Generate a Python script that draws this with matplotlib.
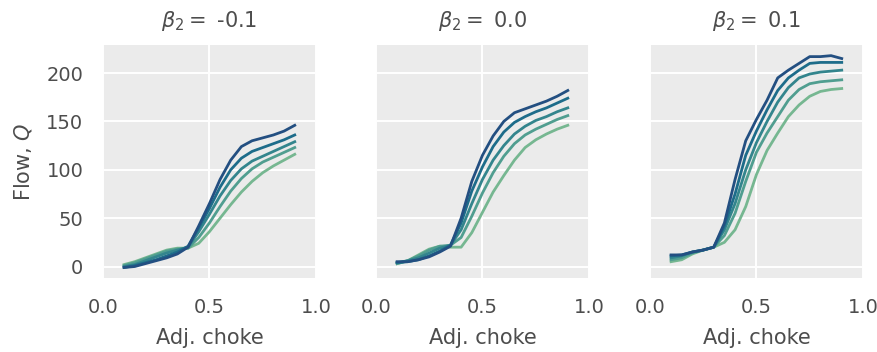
import numpy as np
import matplotlib
matplotlib.use("Agg")
import matplotlib.pyplot as plt
import seaborn as sns

# Adjusted choke positions
choke = [0.1, 0.15, 0.2, 0.25, 0.3, 0.35, 0.4, 0.45, 0.5,
         0.55, 0.6, 0.65, 0.7, 0.75, 0.8, 0.85, 0.9]

betas = ["-0.1", "0.0", "0.1"]

# flow curves per panel, lightest -> darkest
flow_m01 = [
    [2, 5, 9, 13, 17, 19, 19, 24, 36, 50, 64, 77, 88, 97, 104, 110, 116],
    [1, 4, 8, 12, 16, 18, 19, 30, 45, 62, 78, 91, 101, 108, 113, 118, 123],
    [0, 2, 6, 10, 14, 17, 20, 36, 54, 73, 89, 101, 109, 114, 119, 124, 129],
    [-1, 1, 4, 7, 11, 15, 21, 40, 60, 82, 100, 112, 119, 123, 127, 131, 136],
    [-1, 0, 3, 6, 9, 13, 20, 42, 65, 90, 110, 124, 130, 133, 136, 140, 146],
]
flow_00 = [
    [3, 6, 12, 18, 21, 20, 20, 35, 56, 77, 94, 110, 123, 131, 137, 142, 146],
    [3, 6, 11, 17, 21, 22, 30, 52, 76, 97, 114, 127, 136, 142, 147, 152, 156],
    [4, 6, 9, 14, 19, 22, 38, 65, 90, 110, 125, 137, 145, 151, 155, 160, 164],
    [4, 5, 7, 11, 16, 22, 45, 78, 103, 124, 139, 149, 155, 160, 164, 169, 174],
    [5, 5, 7, 10, 15, 21, 50, 88, 115, 135, 150, 159, 163, 167, 171, 176, 182],
]
flow_p01 = [
    [5, 7, 13, 17, 20, 25, 38, 62, 95, 120, 138, 155, 167, 176, 181, 183, 184],
    [7, 9, 14, 17, 20, 32, 55, 88, 118, 138, 155, 172, 183, 189, 191, 192, 193],
    [9, 11, 15, 17, 20, 38, 65, 100, 128, 150, 170, 185, 195, 199, 201, 202, 203],
    [11, 12, 15, 17, 20, 42, 75, 115, 140, 162, 182, 195, 203, 210, 211, 211, 211],
    [12, 12, 15, 17, 20, 45, 90, 130, 152, 172, 195, 203, 210, 217, 217, 218, 215],
]
panels = [flow_m01, flow_00, flow_p01]

colors = sns.color_palette("crest", 5)
text_col = "#4d4d4d"

plt.rcParams["font.family"] = ["DejaVu Sans"]
plt.rcParams["mathtext.fontset"] = "dejavusans"

fig = plt.figure(figsize=(8.78, 3.52), dpi=100)
lefts = [0.117, 0.428, 0.740]
axes = []
for i, left in enumerate(lefts):
    ax = fig.add_axes([left, 0.21, 0.243, 0.662],
                      sharey=axes[0] if axes else None)
    axes.append(ax)
    ax.set_facecolor("#ebebeb")
    for s in ax.spines.values():
        s.set_visible(False)
    ax.grid(True, color="white", linewidth=1.4)
    ax.set_axisbelow(True)
    for j, ys in enumerate(panels[i]):
        ax.plot(choke, ys, color=colors[j], linewidth=2.0)
    ax.set_xlim(0, 1)
    ax.set_xticks([0, 0.5, 1.0])
    ax.set_xticklabels(["0.0", "0.5", "1.0"])
    ax.set_yticks([0, 50, 100, 150, 200])
    ax.tick_params(length=0, labelsize=14, labelcolor=text_col, pad=14)
    ax.set_xlabel("Adj. choke", fontsize=15, color=text_col, labelpad=8)
    ax.set_title(r"$\beta_2 = $ " + betas[i], fontsize=15, color=text_col, pad=13)
    if i > 0:
        ax.tick_params(labelleft=False)

axes[0].set_ylabel("Flow, $Q$", fontsize=15, color=text_col, labelpad=9)

plt.savefig("out.png", dpi=100)
